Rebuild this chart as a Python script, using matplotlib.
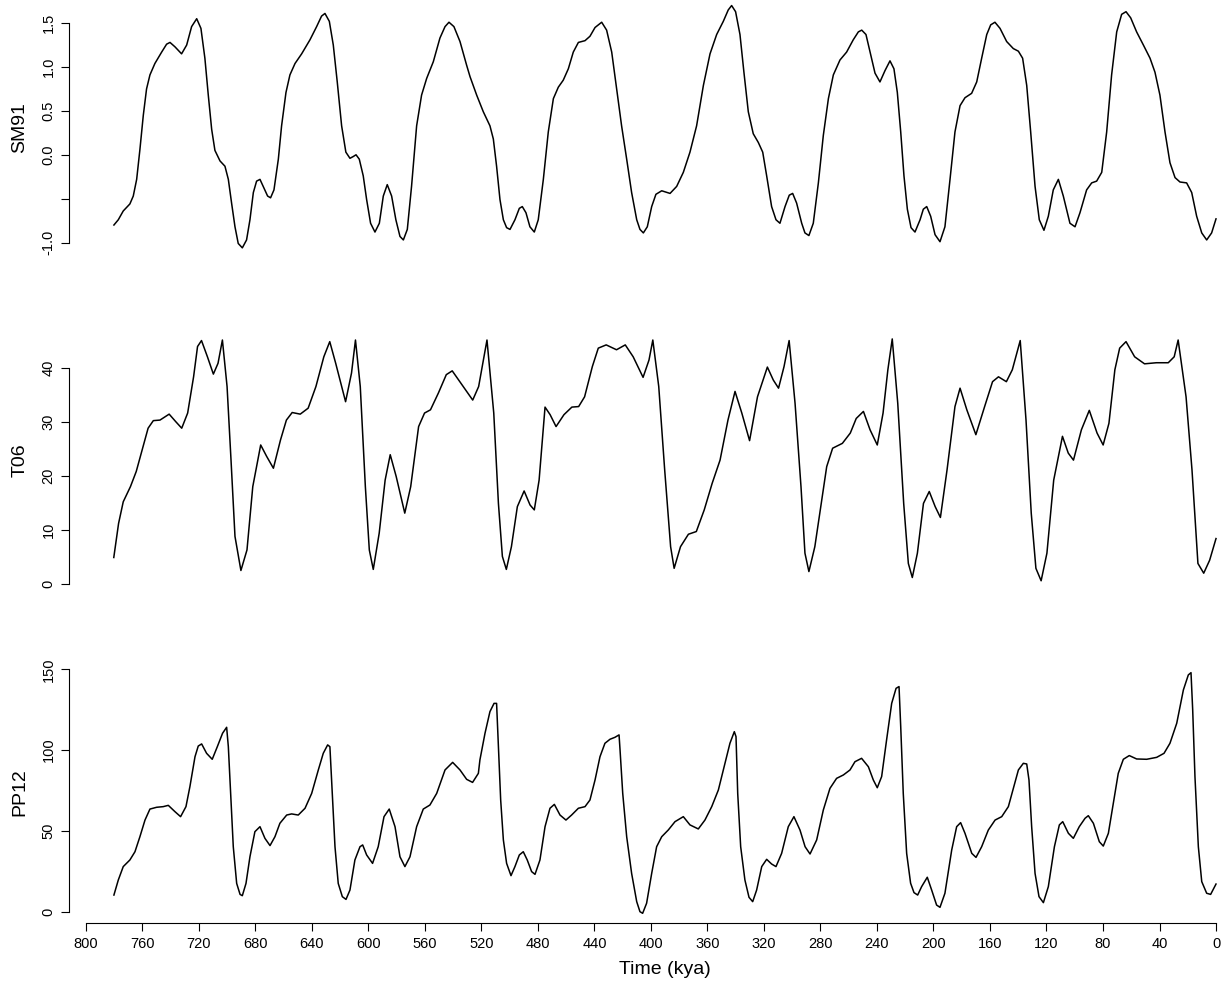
import numpy as np
import matplotlib.pyplot as plt

plt.rcParams['font.family'] = ['Liberation Sans', 'DejaVu Sans']

# --- data (time in kya, value) ---
sm91_time = [780.2, 777.1, 773.6, 768.9, 766.5, 764.1, 761.8, 759.4, 757.1, 754.7,
             751.2, 746.4, 742.9, 740.5, 737.0, 732.3, 728.7, 725.2, 721.6, 718.6,
             715.8, 713.4, 711.0, 708.7, 705.1, 701.6, 699.2, 696.9, 694.5, 692.2,
             689.3, 686.3, 683.9, 681.5, 679.2, 676.8, 674.0, 671.4, 669.3, 666.9,
             663.8, 661.5, 658.4, 655.6, 652.0, 647.3, 641.4, 636.7, 633.2, 630.8,
             627.7, 624.9, 622.1, 619.0, 616.0, 613.1, 610.8, 608.8, 606.5, 603.7,
             601.3, 598.5, 595.4, 592.3, 589.5, 586.7, 583.6, 580.6, 577.7, 575.3,
             572.5, 569.5, 565.9, 562.4, 558.8, 554.1, 549.4, 545.8, 543.0, 539.5,
             535.2, 530.5, 528.1, 523.4, 518.7, 514.0, 511.6, 509.3, 506.9, 504.5,
             502.2, 499.8, 496.3, 493.2, 491.1, 488.5, 485.7, 482.6, 479.8, 476.2,
             472.7, 469.1, 465.6, 462.1, 458.5, 455.0, 451.4, 446.7, 443.2, 439.6,
             434.9, 431.4, 427.8, 424.3, 420.8, 417.2, 413.7, 410.1, 407.8, 405.4,
             402.6, 399.5, 396.5, 392.4, 386.5, 381.8, 377.1, 372.4, 367.7, 362.9,
             358.2, 353.5, 348.8, 345.3, 342.9, 340.1, 337.0, 334.2, 331.1, 327.6,
             324.0, 320.9, 318.1, 314.6, 311.5, 308.7, 305.1, 302.1, 299.7, 296.9,
             293.3, 291.0, 288.2, 285.1, 281.5, 278.0, 274.4, 270.9, 266.2, 261.5,
             256.8, 253.2, 250.8, 247.8, 244.9, 241.4, 237.9, 234.3, 230.8, 228.0,
             225.6, 223.2, 220.9, 218.5, 215.9, 213.1, 209.5, 207.2, 204.8, 202.0,
             198.9, 195.4, 191.9, 188.3, 184.8, 181.2, 177.7, 173.0, 169.4, 165.9,
             162.3, 159.5, 156.5, 152.9, 148.2, 143.5, 139.9, 136.9, 134.0, 131.2,
             128.1, 125.1, 121.8, 118.7, 115.2, 111.6, 108.1, 103.4, 99.8, 96.3,
             91.6, 88.0, 84.5, 80.9, 77.4, 73.9, 70.3, 66.8, 63.7, 60.4,
             56.2, 51.4, 46.7, 43.2, 39.7, 36.1, 32.6, 29.0, 25.5, 20.8,
             17.2, 13.7, 10.1, 6.6, 3.1, 0.0]
sm91_value = [-0.80, -0.74, -0.64, -0.56, -0.47, -0.28, 0.06, 0.45, 0.75, 0.91,
              1.04, 1.17, 1.26, 1.28, 1.23, 1.15, 1.25, 1.46, 1.55, 1.44,
              1.10, 0.68, 0.29, 0.05, -0.07, -0.13, -0.28, -0.55, -0.82, -1.01,
              -1.06, -0.97, -0.74, -0.43, -0.30, -0.28, -0.38, -0.47, -0.49, -0.40,
              -0.05, 0.33, 0.71, 0.91, 1.04, 1.15, 1.31, 1.46, 1.58, 1.61,
              1.52, 1.25, 0.83, 0.33, 0.03, -0.04, -0.02, 0.00, -0.05, -0.24,
              -0.51, -0.78, -0.88, -0.78, -0.47, -0.34, -0.47, -0.74, -0.93, -0.97,
              -0.85, -0.36, 0.33, 0.68, 0.87, 1.06, 1.33, 1.46, 1.51, 1.46,
              1.29, 1.02, 0.89, 0.68, 0.49, 0.33, 0.18, -0.13, -0.51, -0.74,
              -0.83, -0.85, -0.74, -0.61, -0.59, -0.66, -0.82, -0.88, -0.74, -0.28,
              0.26, 0.64, 0.77, 0.85, 0.98, 1.17, 1.28, 1.30, 1.35, 1.45,
              1.51, 1.42, 1.17, 0.75, 0.33, -0.05, -0.43, -0.74, -0.85, -0.89,
              -0.82, -0.59, -0.45, -0.41, -0.44, -0.36, -0.20, 0.03, 0.33, 0.79,
              1.15, 1.37, 1.52, 1.65, 1.70, 1.63, 1.37, 0.94, 0.49, 0.24,
              0.14, 0.03, -0.24, -0.59, -0.74, -0.78, -0.59, -0.46, -0.44, -0.55,
              -0.78, -0.89, -0.92, -0.78, -0.32, 0.22, 0.64, 0.91, 1.08, 1.17,
              1.31, 1.40, 1.42, 1.37, 1.17, 0.93, 0.83, 0.96, 1.07, 0.98,
              0.71, 0.26, -0.24, -0.62, -0.83, -0.88, -0.74, -0.62, -0.59, -0.70,
              -0.91, -0.99, -0.82, -0.28, 0.26, 0.56, 0.65, 0.70, 0.83, 1.10,
              1.37, 1.48, 1.51, 1.44, 1.29, 1.21, 1.18, 1.10, 0.79, 0.26,
              -0.36, -0.74, -0.86, -0.70, -0.40, -0.28, -0.47, -0.78, -0.82, -0.66,
              -0.40, -0.32, -0.30, -0.20, 0.26, 0.91, 1.40, 1.60, 1.63, 1.56,
              1.40, 1.25, 1.10, 0.94, 0.68, 0.26, -0.09, -0.26, -0.31, -0.32,
              -0.43, -0.70, -0.89, -0.97, -0.89, -0.73]

t06_time = [780.3, 776.9, 773.6, 768.5, 764.4, 760.2, 756.0, 752.3, 747.6, 741.1,
            736.4, 732.2, 728.0, 723.8, 721.0, 718.2, 714.0, 709.8, 706.5, 703.4,
            700.1, 697.3, 694.5, 690.3, 686.0, 681.9, 676.3, 672.1, 667.3, 662.3,
            658.1, 654.0, 648.3, 642.7, 637.2, 631.6, 627.4, 623.2, 616.2, 612.0,
            609.2, 605.8, 602.2, 599.4, 596.6, 592.4, 588.2, 584.6, 580.4, 574.3,
            570.1, 564.5, 560.3, 556.1, 550.5, 544.9, 540.7, 533.7, 526.2, 522.0,
            516.1, 511.3, 508.0, 505.2, 502.4, 498.8, 494.6, 489.8, 485.6, 482.6,
            479.2, 475.0, 471.4, 467.2, 461.6, 456.0, 451.2, 447.0, 441.5, 437.3,
            431.7, 424.4, 418.2, 412.6, 405.6, 401.4, 398.7, 394.5, 390.3, 386.1,
            383.6, 379.1, 373.5, 367.9, 362.3, 356.7, 351.1, 345.5, 340.5, 335.7,
            330.2, 324.6, 317.6, 313.4, 309.7, 305.8, 302.2, 298.0, 293.8, 291.0,
            288.2, 284.0, 279.8, 275.6, 271.4, 264.5, 258.9, 254.7, 249.6, 244.9,
            239.8, 235.7, 232.3, 229.2, 225.3, 221.1, 217.8, 215.0, 211.4, 207.1,
            203.0, 198.8, 195.1, 190.4, 184.8, 181.2, 176.4, 170.0, 163.8, 158.2,
            154.0, 148.4, 144.2, 138.6, 134.5, 130.8, 127.5, 123.8, 119.7, 114.9,
            108.7, 104.6, 100.9, 95.3, 89.7, 84.2, 79.9, 75.8, 71.6, 68.2,
            63.7, 57.6, 50.6, 42.2, 33.8, 29.6, 26.8, 21.2, 17.0, 12.8,
            8.7, 4.5, 0.0]
t06_value = [4.9, 11.2, 15.2, 18.0, 20.8, 24.8, 28.8, 30.2, 30.3, 31.4,
             30.0, 28.8, 31.6, 38.3, 43.9, 45.0, 42.0, 38.8, 40.8, 45.1,
             36.5, 22.9, 8.8, 2.5, 6.3, 18.0, 25.7, 23.6, 21.4, 26.6,
             30.3, 31.7, 31.4, 32.5, 36.5, 42.0, 44.8, 40.8, 33.7, 39.0,
             45.1, 36.5, 18.0, 6.3, 2.7, 9.4, 19.2, 23.9, 19.9, 13.1,
             18.0, 29.1, 31.6, 32.2, 35.3, 38.7, 39.4, 36.8, 34.0, 36.5,
             45.1, 31.6, 14.9, 5.1, 2.7, 6.9, 14.3, 17.2, 14.6, 13.7,
             19.2, 32.7, 31.3, 29.1, 31.3, 32.7, 32.8, 34.6, 40.2, 43.6,
             44.2, 43.3, 44.2, 42.0, 38.2, 41.4, 45.1, 36.5, 21.1, 6.9,
             2.9, 6.9, 9.2, 9.7, 13.7, 18.6, 22.9, 30.3, 35.6, 31.6,
             26.5, 34.6, 40.1, 37.7, 36.2, 40.2, 45.0, 33.4, 18.0, 5.7,
             2.3, 6.9, 14.3, 21.7, 25.1, 26.0, 27.9, 30.6, 31.9, 28.5,
             25.7, 31.6, 39.6, 45.3, 33.4, 14.9, 3.8, 1.2, 5.7, 14.9,
             17.1, 14.3, 12.3, 21.1, 32.8, 36.2, 32.2, 27.6, 32.8, 37.4,
             38.3, 37.4, 39.6, 45.0, 30.3, 13.1, 2.9, 0.6, 5.7, 19.2,
             27.3, 24.2, 22.9, 28.5, 32.1, 27.9, 25.7, 29.7, 39.6, 43.6,
             44.8, 42.0, 40.7, 40.9, 40.9, 42.0, 45.1, 34.6, 21.1, 3.8,
             2.0, 4.4, 8.4]

pp12_time = [780.2, 777.1, 773.6, 768.9, 765.3, 761.8, 758.2, 754.7, 750.0, 745.3,
             741.7, 737.0, 733.0, 729.2, 726.4, 722.8, 720.5, 718.1, 714.6, 710.6,
             707.0, 703.3, 700.4, 699.2, 697.6, 695.7, 693.3, 690.9, 689.3, 686.7,
             683.9, 680.4, 676.8, 673.3, 669.7, 666.2, 662.7, 657.9, 654.4, 649.7,
             644.9, 640.2, 635.5, 632.0, 628.9, 627.3, 625.6, 623.7, 621.4, 618.5,
             615.9, 613.1, 609.6, 606.0, 604.1, 601.3, 597.1, 593.1, 589.0, 585.3,
             581.2, 577.7, 574.2, 570.6, 565.9, 561.2, 556.5, 551.7, 545.8, 540.4,
             535.2, 530.5, 526.3, 522.2, 521.1, 517.5, 514.0, 511.1, 509.3, 508.1,
             506.4, 504.5, 502.2, 499.1, 496.3, 493.2, 490.4, 487.6, 484.5, 482.1,
             478.6, 475.0, 471.5, 468.4, 464.4, 460.2, 456.2, 451.4, 446.7, 443.2,
             439.6, 436.1, 432.6, 429.0, 425.5, 422.6, 421.9, 420.0, 417.2, 413.7,
             410.1, 407.8, 405.9, 403.1, 399.5, 396.0, 392.4, 387.7, 383.0, 377.1,
             372.4, 366.5, 361.8, 357.0, 352.3, 347.6, 344.1, 341.0, 339.8, 338.6,
             336.5, 333.5, 330.6, 328.0, 325.2, 321.6, 318.1, 314.6, 311.5, 307.5,
             302.8, 298.8, 294.5, 290.9, 287.4, 282.7, 278.0, 273.3, 268.6, 263.8,
             259.1, 255.6, 250.9, 246.1, 242.6, 239.8, 236.7, 233.2, 229.6, 226.5,
             224.4, 223.2, 221.4, 219.0, 216.2, 213.8, 211.2, 208.4, 204.4, 201.3,
             197.8, 195.4, 191.9, 187.1, 183.6, 180.8, 177.7, 172.9, 169.9, 165.9,
             161.2, 156.4, 151.7, 147.0, 143.5, 139.9, 136.4, 134.0, 132.4, 130.5,
             128.1, 125.3, 122.2, 118.7, 114.4, 110.9, 108.5, 104.5, 101.0, 96.8,
             92.7, 90.4, 86.8, 82.6, 79.8, 76.2, 72.7, 69.2, 65.6, 61.4,
             56.2, 49.1, 42.0, 36.8, 32.6, 27.8, 23.1, 19.6, 17.7, 16.5,
             14.9, 12.5, 10.1, 6.6, 3.8, 0.0]
pp12_value = [10.3, 19.6, 27.9, 32.0, 37.1, 46.4, 56.7, 63.5, 64.6, 65.0,
              65.8, 61.9, 58.8, 65.0, 77.4, 95.9, 102.5, 103.8, 98.0, 94.3,
              102.1, 110.4, 114.1, 102.1, 73.2, 40.2, 17.5, 10.7, 9.9, 17.5,
              34.0, 49.5, 52.6, 45.4, 40.9, 46.4, 54.7, 59.8, 60.5, 59.8,
              64.0, 73.2, 87.7, 98.0, 103.2, 102.1, 73.2, 40.2, 17.5, 9.3,
              7.6, 13.4, 32.0, 40.2, 41.3, 35.1, 29.9, 40.2, 58.8, 63.5,
              52.6, 34.0, 27.9, 34.0, 52.6, 63.5, 66.0, 73.2, 87.7, 92.4,
              87.7, 81.9, 80.0, 85.6, 93.9, 110.4, 123.8, 128.9, 128.9, 104.2,
              69.1, 44.4, 29.9, 22.3, 27.9, 35.1, 37.1, 32.0, 24.8, 23.1,
              32.0, 52.6, 64.0, 66.4, 59.8, 56.7, 59.8, 64.0, 65.0, 69.1,
              81.5, 95.9, 104.2, 106.7, 107.9, 109.4, 100.1, 73.2, 46.4, 23.7,
              6.2, 0.0, -1.0, 5.2, 23.7, 40.2, 46.4, 50.6, 55.7, 58.8,
              53.7, 51.2, 56.7, 65.0, 75.3, 91.8, 104.2, 111.4, 108.3, 73.2,
              40.2, 19.6, 8.9, 6.2, 13.4, 27.9, 32.4, 29.5, 27.9, 36.1,
              52.6, 58.8, 50.5, 40.2, 35.7, 44.4, 62.9, 76.3, 82.5, 84.6,
              87.7, 92.8, 94.9, 89.7, 81.5, 76.7, 83.6, 106.3, 128.9, 138.2,
              139.3, 114.5, 73.2, 36.1, 17.6, 11.8, 10.3, 15.5, 21.3, 13.4,
              4.1, 2.7, 11.4, 38.2, 52.6, 55.1, 48.5, 36.1, 33.6, 40.2,
              50.5, 56.7, 58.8, 65.0, 76.3, 87.7, 91.8, 91.4, 81.5, 52.6,
              23.7, 9.3, 5.6, 15.5, 40.2, 53.7, 55.7, 48.5, 45.4, 52.6,
              57.8, 59.4, 54.7, 43.3, 40.6, 48.5, 67.1, 85.6, 94.3, 96.6,
              94.5, 94.3, 95.5, 98.0, 104.2, 116.6, 137.2, 146.5, 147.9, 124.8,
              83.6, 40.2, 18.6, 11.4, 10.7, 17.1]

sm91_ticks = [-1.0, -0.5, 0.0, 0.5, 1.0, 1.5]
sm91_labels = ['-1.0', '', '0.0', '0.5', '1.0', '1.5']
t06_ticks = [0, 10, 20, 30, 40]
pp12_ticks = [0, 50, 100, 150]
time_ticks = list(range(800, -1, -40))

W, H = 1229, 985
fig = plt.figure(figsize=(W / 100, H / 100), dpi=100)

X_LEFT = 69  # pixel of the y axis line


def panel(top, bottom, ylim, ticks, labels, name):
    ax = fig.add_axes([X_LEFT / W, 1 - bottom / H, (W - X_LEFT) / W, (bottom - top) / H])
    ax.set_xlim(812.0, -9.2)
    ax.set_ylim(*ylim)
    for s in ['top', 'right', 'bottom']:
        ax.spines[s].set_visible(False)
    ax.spines['left'].set_bounds(ticks[0], ticks[-1])
    ax.spines['left'].set_linewidth(0.8)
    ax.set_yticks(ticks)
    ax.set_yticklabels(labels, rotation=90, va='center', fontsize=10.5)
    ax.tick_params(axis='y', length=5.8, width=0.8, pad=4)
    ax.set_xticks([])
    ax.set_ylabel(name, fontsize=14, va='center')
    ax.yaxis.set_label_coords((20 - X_LEFT) / (W - X_LEFT), 0.5)
    ax.patch.set_visible(False)
    return ax


ax1 = panel(-2.0, 257.5, (-1.17, 1.786), sm91_ticks, sm91_labels, 'SM91')
ax1.plot(sm91_time, sm91_value, color='black', lw=1.1)

ax2 = panel(329.2, 590.5, (-1.2, 47.1), t06_ticks, [str(v) for v in t06_ticks], 'T06')
ax2.plot(t06_time, t06_value, color='black', lw=1.1)

ax3 = panel(662.0, 923.0, (-7.0, 154.5), pp12_ticks, [str(v) for v in pp12_ticks], 'PP12')
ax3.plot(pp12_time, pp12_value, color='black', lw=1.1)
ax3.spines['bottom'].set_visible(True)
ax3.spines['bottom'].set_bounds(0, 800)
ax3.spines['bottom'].set_linewidth(0.8)
ax3.set_xticks(time_ticks)
ax3.set_xticklabels([str(v) for v in time_ticks], fontsize=10.5)
ax3.tick_params(axis='x', length=5.8, width=0.8, pad=4)
ax3.set_xlabel('Time (kya)', fontsize=14, va='center')
ax3.xaxis.set_label_coords((665 - X_LEFT) / (W - X_LEFT), -46 / 261.0)

fig.savefig('out.png', dpi=100)
